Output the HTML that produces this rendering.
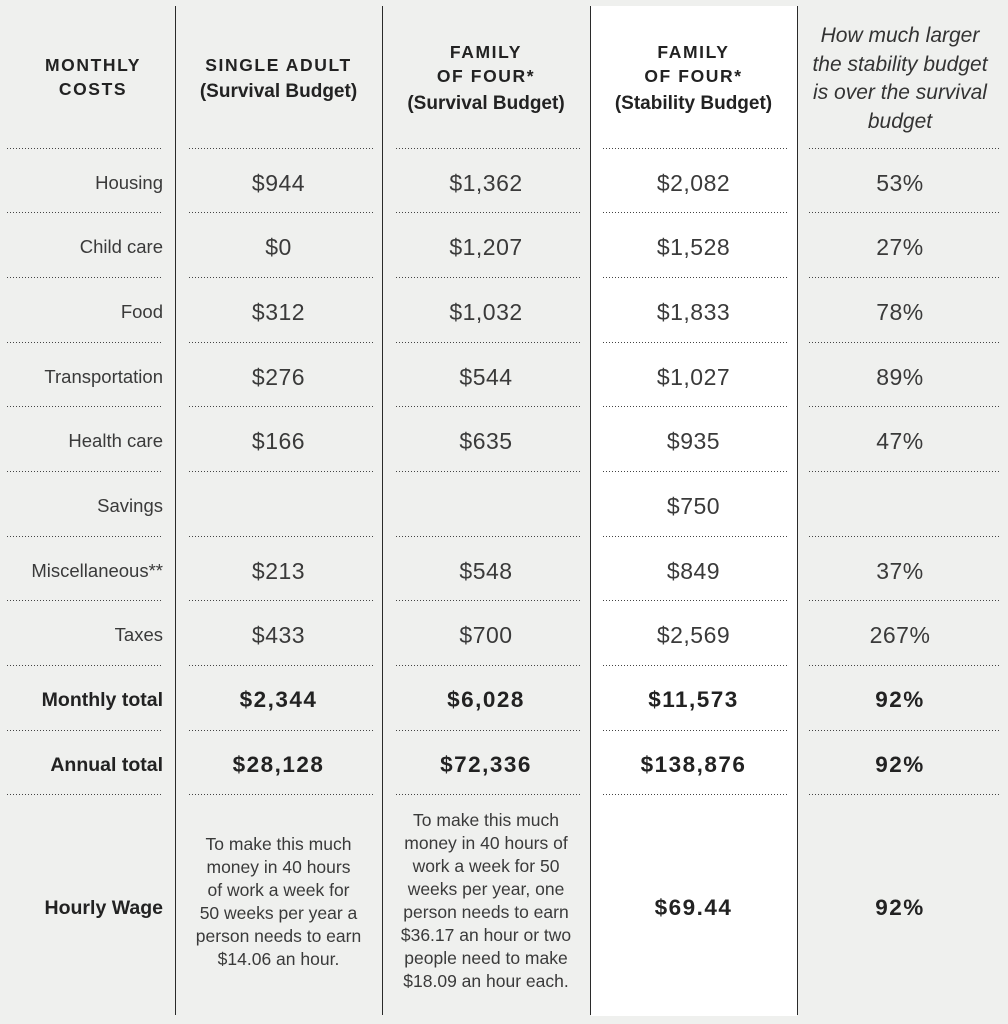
<!DOCTYPE html>
<html>
<head>
<meta charset="utf-8">
<style>
html,body{margin:0;padding:0;}
body{width:1008px;height:1024px;background:#eff0ee;position:relative;overflow:hidden;font-family:"Liberation Sans",sans-serif;color:#3a3a3a;}
.w{position:absolute;left:591px;top:6px;width:206px;height:1010px;background:#ffffff;}
.v{position:absolute;top:6px;width:1px;height:1009px;background:#2a2a2a;}
.d{position:absolute;height:1px;background:repeating-linear-gradient(to right,#444 0 1px,transparent 1px 3px);}
.t{position:absolute;white-space:nowrap;}
.lab{left:0;width:163px;text-align:right;font-size:18.5px;height:30px;line-height:30px;color:#3a3a3a;}
.labb{left:0;width:163px;text-align:right;font-size:19.5px;font-weight:bold;height:30px;line-height:30px;color:#222;}
.val{font-size:23px;letter-spacing:0.5px;height:30px;line-height:30px;text-align:center;color:#3a3a3a;}
.valb{font-size:22.5px;font-weight:bold;letter-spacing:1.5px;height:30px;line-height:30px;text-align:center;color:#222;}
.c2{left:175px;width:207px;}
.c3{left:382px;width:208px;}
.c4{left:590px;width:207px;}
.c5{left:797px;width:206px;}
.hc{font-size:17.5px;font-weight:bold;letter-spacing:1.6px;line-height:24px;text-align:center;color:#222;}
.hp{font-size:19px;font-weight:bold;line-height:26px;text-align:center;color:#222;}
.it{font-size:21px;font-style:italic;line-height:28.7px;text-align:center;color:#333;}
.p{font-size:17.5px;line-height:23px;text-align:center;color:#3a3a3a;}
</style>
</head>
<body>
<div class="w"></div>
<div class="v" style="left:175px"></div>
<div class="v" style="left:382px"></div>
<div class="v" style="left:590px"></div>
<div class="v" style="left:797px"></div>

<div class="t hc" style="left:0;width:186px;top:53px;">MONTHLY<br>COSTS</div>
<div class="t c2" style="top:53px;"><div class="hc">SINGLE ADULT</div><div class="hp" style="margin-top:2px;">(Survival Budget)</div></div>
<div class="t c3" style="top:40px;"><div class="hc">FAMILY<br>OF FOUR*</div><div class="hp" style="margin-top:3px;">(Survival Budget)</div></div>
<div class="t c4" style="top:40px;"><div class="hc">FAMILY<br>OF FOUR*</div><div class="hp" style="margin-top:3px;">(Stability Budget)</div></div>
<div class="t c5 it" style="top:22px;">How much larger<br>the stability budget<br>is over the survival<br>budget</div>

<div class="t lab" style="top:168px">Housing</div>
<div class="t val c2" style="top:168px">$944</div>
<div class="t val c3" style="top:168px">$1,362</div>
<div class="t val c4" style="top:168px">$2,082</div>
<div class="t val c5" style="top:168px">53%</div>

<div class="t lab" style="top:232px">Child care</div>
<div class="t val c2" style="top:232px">$0</div>
<div class="t val c3" style="top:232px">$1,207</div>
<div class="t val c4" style="top:232px">$1,528</div>
<div class="t val c5" style="top:232px">27%</div>

<div class="t lab" style="top:297px">Food</div>
<div class="t val c2" style="top:297px">$312</div>
<div class="t val c3" style="top:297px">$1,032</div>
<div class="t val c4" style="top:297px">$1,833</div>
<div class="t val c5" style="top:297px">78%</div>

<div class="t lab" style="top:362px">Transportation</div>
<div class="t val c2" style="top:362px">$276</div>
<div class="t val c3" style="top:362px">$544</div>
<div class="t val c4" style="top:362px">$1,027</div>
<div class="t val c5" style="top:362px">89%</div>

<div class="t lab" style="top:426px">Health care</div>
<div class="t val c2" style="top:426px">$166</div>
<div class="t val c3" style="top:426px">$635</div>
<div class="t val c4" style="top:426px">$935</div>
<div class="t val c5" style="top:426px">47%</div>

<div class="t lab" style="top:491px">Savings</div>
<div class="t val c4" style="top:491px">$750</div>

<div class="t lab" style="top:556px">Miscellaneous**</div>
<div class="t val c2" style="top:556px">$213</div>
<div class="t val c3" style="top:556px">$548</div>
<div class="t val c4" style="top:556px">$849</div>
<div class="t val c5" style="top:556px">37%</div>

<div class="t lab" style="top:620px">Taxes</div>
<div class="t val c2" style="top:620px">$433</div>
<div class="t val c3" style="top:620px">$700</div>
<div class="t val c4" style="top:620px">$2,569</div>
<div class="t val c5" style="top:620px">267%</div>

<div class="t labb" style="top:685px">Monthly total</div>
<div class="t valb c2" style="top:685px">$2,344</div>
<div class="t valb c3" style="top:685px">$6,028</div>
<div class="t valb c4" style="top:685px">$11,573</div>
<div class="t valb c5" style="top:685px">92%</div>

<div class="t labb" style="top:750px">Annual total</div>
<div class="t valb c2" style="top:750px">$28,128</div>
<div class="t valb c3" style="top:750px">$72,336</div>
<div class="t valb c4" style="top:750px">$138,876</div>
<div class="t valb c5" style="top:750px">92%</div>

<div class="t labb" style="top:893px">Hourly Wage</div>
<div class="t p c2" style="top:833px">To make this much<br>money in 40 hours<br>of work a week for<br>50 weeks per year a<br>person needs to earn<br>$14.06 an hour.</div>
<div class="t p c3" style="top:809px">To make this much<br>money in 40 hours of<br>work a week for 50<br>weeks per year, one<br>person needs to earn<br>$36.17 an hour or two<br>people need to make<br>$18.09 an hour each.</div>
<div class="t valb c4" style="top:893px">$69.44</div>
<div class="t valb c5" style="top:893px">92%</div>

<div class="d" style="left:7px;width:156px;top:148px"></div><div class="d" style="left:189px;width:184px;top:148px"></div><div class="d" style="left:396px;width:184px;top:148px"></div><div class="d" style="left:603px;width:184px;top:148px"></div><div class="d" style="left:809px;width:192px;top:148px"></div>
<div class="d" style="left:7px;width:156px;top:212px"></div><div class="d" style="left:189px;width:184px;top:212px"></div><div class="d" style="left:396px;width:184px;top:212px"></div><div class="d" style="left:603px;width:184px;top:212px"></div><div class="d" style="left:809px;width:192px;top:212px"></div>
<div class="d" style="left:7px;width:156px;top:277px"></div><div class="d" style="left:189px;width:184px;top:277px"></div><div class="d" style="left:396px;width:184px;top:277px"></div><div class="d" style="left:603px;width:184px;top:277px"></div><div class="d" style="left:809px;width:192px;top:277px"></div>
<div class="d" style="left:7px;width:156px;top:342px"></div><div class="d" style="left:189px;width:184px;top:342px"></div><div class="d" style="left:396px;width:184px;top:342px"></div><div class="d" style="left:603px;width:184px;top:342px"></div><div class="d" style="left:809px;width:192px;top:342px"></div>
<div class="d" style="left:7px;width:156px;top:406px"></div><div class="d" style="left:189px;width:184px;top:406px"></div><div class="d" style="left:396px;width:184px;top:406px"></div><div class="d" style="left:603px;width:184px;top:406px"></div><div class="d" style="left:809px;width:192px;top:406px"></div>
<div class="d" style="left:7px;width:156px;top:471px"></div><div class="d" style="left:189px;width:184px;top:471px"></div><div class="d" style="left:396px;width:184px;top:471px"></div><div class="d" style="left:603px;width:184px;top:471px"></div><div class="d" style="left:809px;width:192px;top:471px"></div>
<div class="d" style="left:7px;width:156px;top:536px"></div><div class="d" style="left:189px;width:184px;top:536px"></div><div class="d" style="left:396px;width:184px;top:536px"></div><div class="d" style="left:603px;width:184px;top:536px"></div><div class="d" style="left:809px;width:192px;top:536px"></div>
<div class="d" style="left:7px;width:156px;top:600px"></div><div class="d" style="left:189px;width:184px;top:600px"></div><div class="d" style="left:396px;width:184px;top:600px"></div><div class="d" style="left:603px;width:184px;top:600px"></div><div class="d" style="left:809px;width:192px;top:600px"></div>
<div class="d" style="left:7px;width:156px;top:665px"></div><div class="d" style="left:189px;width:184px;top:665px"></div><div class="d" style="left:396px;width:184px;top:665px"></div><div class="d" style="left:603px;width:184px;top:665px"></div><div class="d" style="left:809px;width:192px;top:665px"></div>
<div class="d" style="left:7px;width:156px;top:730px"></div><div class="d" style="left:189px;width:184px;top:730px"></div><div class="d" style="left:396px;width:184px;top:730px"></div><div class="d" style="left:603px;width:184px;top:730px"></div><div class="d" style="left:809px;width:192px;top:730px"></div>
<div class="d" style="left:7px;width:156px;top:794px"></div><div class="d" style="left:189px;width:184px;top:794px"></div><div class="d" style="left:396px;width:184px;top:794px"></div><div class="d" style="left:603px;width:184px;top:794px"></div><div class="d" style="left:809px;width:192px;top:794px"></div>
</body>
</html>
